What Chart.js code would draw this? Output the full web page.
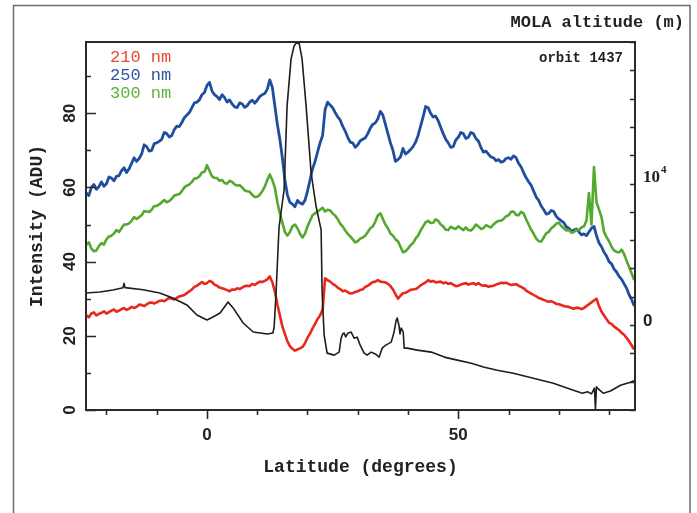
<!DOCTYPE html>
<html>
<head>
<meta charset="utf-8">
<script src="https://cdn.jsdelivr.net/npm/chart.js@4.4.0/dist/chart.umd.min.js"></script>
<style>
  html, body { margin: 0; padding: 0; background: #fff; }
  canvas { display: block; }
</style>
</head>
<body>
<canvas id="chart" width="697" height="513"></canvas>
<script>
// latitude grid shared by the three UV channels (degrees, 0.5 step)
const latitude = [
  -24, -23.5, -23, -22.5, -22, -21.5, -21, -20.5, -20, -19.5,
  -19, -18.5, -18, -17.5, -17, -16.5, -16, -15.5, -15, -14.5,
  -14, -13.5, -13, -12.5, -12, -11.5, -11, -10.5, -10, -9.5,
  -9, -8.5, -8, -7.5, -7, -6.5, -6, -5.5, -5, -4.5,
  -4, -3.5, -3, -2.5, -2, -1.5, -1, -0.5, 0, 0.5,
  1, 1.5, 2, 2.5, 3, 3.5, 4, 4.5, 5, 5.5,
  6, 6.5, 7, 7.5, 8, 8.5, 9, 9.5, 10, 10.5,
  11, 11.5, 12, 12.5, 13, 13.5, 14, 14.5, 15, 15.5,
  16, 16.5, 17, 17.5, 18, 18.5, 19, 19.5, 20, 20.5,
  21, 21.5, 22, 22.5, 23, 23.5, 24, 24.5, 25, 25.5,
  26, 26.5, 27, 27.5, 28, 28.5, 29, 29.5, 30, 30.5,
  31, 31.5, 32, 32.5, 33, 33.5, 34, 34.5, 35, 35.5,
  36, 36.5, 37, 37.5, 38, 38.5, 39, 39.5, 40, 40.5,
  41, 41.5, 42, 42.5, 43, 43.5, 44, 44.5, 45, 45.5,
  46, 46.5, 47, 47.5, 48, 48.5, 49, 49.5, 50, 50.5,
  51, 51.5, 52, 52.5, 53, 53.5, 54, 54.5, 55, 55.5,
  56, 56.5, 57, 57.5, 58, 58.5, 59, 59.5, 60, 60.5,
  61, 61.5, 62, 62.5, 63, 63.5, 64, 64.5, 65, 65.5,
  66, 66.5, 67, 67.5, 68, 68.5, 69, 69.5, 70, 70.5,
  71, 71.5, 72, 72.5, 73, 73.5, 74, 74.5, 75, 75.5,
  76, 76.5, 77, 77.5, 78, 78.5, 79, 79.5, 80, 80.5,
  81, 81.5, 82, 82.5, 83, 83.5, 84, 84.5, 85
];

// intensity (ADU), one row per 5 degrees
const uv210 = [
  25.5, 25, 26, 26.3, 25.5, 25.9, 26.2, 26.6, 26, 26.4,
  26.8, 27.1, 26.5, 26.8, 27.2, 27.5, 27, 27.3, 27.8, 27.5,
  27.8, 28.4, 28.3, 28, 28.5, 28.9, 29, 28.7, 29, 29.4,
  29.5, 29.3, 29.8, 30.2, 30, 29.8, 30.2, 30.6, 30.8, 31,
  31.5, 32, 32.5, 33.2, 33.5, 34, 34.5, 34, 34.2, 34.8,
  34.5, 33.8, 33.5, 33, 32.8, 32.6, 32.3, 32, 32.5, 32.4,
  32.8, 32.6, 33, 33.4, 33.5, 33.4, 34, 33.7, 34.2, 34.6,
  34.5, 34.8, 35.2, 36, 34.5, 32, 28.5, 25.5, 22.5, 20.5,
  18.5, 17.2, 16.5, 16, 16.3, 16.6, 17, 18, 19.5, 20.6,
  22, 23.2, 24.5, 25.5, 27, 35.5, 35, 34.6, 34, 33.6,
  33, 32.6, 32, 32.2, 31.8, 31.4, 31.5, 31.8, 32, 32.4,
  32.5, 33.2, 33.5, 34, 34.5, 34.6, 35, 34.6, 34.5, 34.4,
  34, 33.4, 32.5, 31.2, 30, 30.8, 31.5, 31.6, 32, 32.4,
  32.5, 32.6, 33, 33.6, 34, 34.4, 35, 34.6, 34.8, 34.4,
  34.5, 34.6, 34.2, 34.4, 34, 34.2, 33.8, 33.4, 33.5, 33.8,
  34, 34.2, 33.8, 34, 34.2, 33.8, 34.2, 33.7, 33.5, 33.6,
  33.2, 33.4, 33.5, 33.8, 34, 34.3, 34.2, 34.3, 34, 33.7,
  33.8, 33.9, 33.5, 33.2, 32.8, 32.2, 31.8, 31.4, 31, 30.6,
  30.2, 30, 29.7, 29.4, 29.2, 29.3, 29, 28.6, 28.5, 28.3,
  28, 27.9, 27.8, 27.5, 27.3, 27.6, 27.5, 27.2, 27.5, 28,
  28.5, 29, 29.5, 30, 28, 26.5, 25.5, 24.5, 23.5, 23.2,
  22.5, 22, 21.5, 20.8, 20.3, 19.4, 18.5, 17.4, 16.3
];
const uv250 = [
  58.5, 57.8, 60, 60.8, 59.5, 60.2, 61.5, 60.3, 61, 62.8,
  62.5, 61.8, 63, 63.2, 64.5, 65.3, 64, 65, 66.5, 68,
  67, 67.8, 69, 71.5, 71, 69.8, 70, 71.8, 72, 72.4,
  73, 74.8, 74.5, 73.6, 74, 75.6, 76.5, 76.4, 77.5, 78.8,
  79.5, 80.2, 81.5, 82.8, 83, 83.6, 85, 85.6, 87.5, 88.3,
  86, 85, 84.5, 83.7, 85, 84.2, 83, 83.6, 82.5, 81.7,
  81.5, 82.8, 82.5, 81.6, 82, 83, 83.5, 82.7, 83.5, 84.5,
  85, 85.3, 86.5, 89, 87, 82, 77, 73, 68, 62,
  58, 56, 55.5, 54.8, 56.5, 55.8, 55.5, 56.5, 59, 62,
  65, 67, 69.5, 72, 74, 81, 83, 82.2, 81.5, 80.2,
  79, 78.2, 76.5, 75.2, 73.5, 72.2, 72, 70.8, 71.5, 72.6,
  73, 73.4, 74.5, 76, 77, 77.4, 78.5, 80.5, 79.5, 77,
  74.5, 72, 70, 67, 67.5, 68.2, 70.5, 69, 69.5, 70.2,
  71, 72.2, 74, 76.5, 79, 81.8, 81.5, 80, 79, 79.2,
  78, 76.2, 74.5, 73, 72, 70.8, 71, 72.8, 73.5, 74.8,
  74.5, 73.2, 73.5, 74.8, 74.5, 73.2, 72.5, 70.8, 69.5, 69.8,
  69, 68.2, 68, 67.2, 67.5, 66.8, 67, 67.8, 68, 67.6,
  68.5, 68, 66.5, 65.5, 64, 62.6, 61.5, 60.6, 59, 57.4,
  56.5, 55, 54, 52.8, 53, 53.8, 53.5, 52.2, 51.5, 51,
  50.5, 49.4, 49, 48.2, 48.5, 48.8, 48, 47.2, 47.5, 47,
  48, 49, 49.5, 47, 45, 44, 42.5, 41.5, 40, 39.4,
  38, 37.2, 36, 35.2, 34, 32.8, 31, 29.8, 28
];
const uv300 = [
  44.5, 45.2, 43.5, 42.8, 43, 44.2, 45, 44.6, 46, 46.8,
  47, 47.6, 48.5, 48, 49, 50, 50, 50.3, 51, 52,
  51.5, 52, 52.5, 53.6, 53.5, 53.4, 54, 55, 55, 55.4,
  56, 56.6, 56, 56.3, 57, 57.8, 58, 58.2, 59, 60,
  60.5, 60.8, 61.5, 62.4, 62.5, 63, 64, 64.2, 66, 64.5,
  63, 62.6, 62.5, 61.8, 62, 61.2, 61, 61.8, 61.5, 60.8,
  60.5, 60.6, 60, 59.2, 59, 58.8, 58, 57.4, 57.5, 58,
  59, 60.2, 62, 63.5, 62, 60, 56, 53, 50.5, 48,
  47, 48, 49.5, 50, 49, 47.5, 46.5, 47.5, 49.5, 51,
  52.5, 53, 53.5, 54, 54.5, 53.5, 54, 53.8, 53, 52.4,
  51.5, 50.2, 49.5, 48.4, 47.5, 46.8, 46, 45.2, 45.5, 46.2,
  46.5, 47, 48, 49, 49.5, 50.8, 52.5, 53, 51.5, 50,
  49, 47.6, 47, 46, 45.5, 44, 42.5, 42.8, 43.5, 44.4,
  45, 46.2, 47, 48.4, 49.5, 50.6, 51, 50.4, 50.5, 51.4,
  51, 50, 49.5, 48.6, 48.5, 49.4, 49, 48.8, 49.5, 49,
  48.5, 49.2, 48.5, 48.4, 49, 50, 49.5, 48.8, 49, 49.8,
  49.5, 49.2, 50, 50.6, 51, 51, 51.5, 52.2, 52.5, 53.4,
  53.5, 52.6, 52.5, 53.4, 53, 51.4, 50, 48.6, 47.5, 46.2,
  45.5, 45.4, 46.5, 47.6, 48, 49, 49.5, 50.2, 50.5, 49.6,
  49, 48.4, 48.5, 47.8, 48, 48.6, 48.5, 49.2, 49.5, 51,
  58.5, 50, 65.5, 56, 54, 52, 48, 46.6, 45.5, 44,
  43, 42.6, 42.5, 43.2, 42, 40.2, 38.5, 36.8, 35
];

// MOLA track altitude (m)
const molaLatitude = [
  -24.1, -21.3, -18.7, -16.7, -16.5, -16.3, -12.7, -9.4, -6.8, -4.0, -2.0, 0.0, 1.2, 2.6, 4.2, 5.2, 7.2, 9.2, 12.0, 13.1,
  13.35, 13.75, 14.34, 15.34, 15.94, 16.73, 17.33, 17.73, 18.33, 18.92, 19.72, 20.72, 21.71, 22.71, 22.91, 23.31, 23.9,
  25.3, 26.29, 26.69, 27.0, 27.29, 27.6, 28.0, 28.69, 29.0, 29.28, 29.88, 30.5, 31.27, 31.87, 32.67, 33.5, 34.26, 34.86,
  35.5, 36.65, 37.2, 37.65, 37.85, 38.2, 38.4, 38.65, 39.04, 39.24, 39.84, 41.83, 44.62, 47.21, 49.8, 52.59, 55.18,
  57.77, 60.96, 64.94, 68.92, 72.91, 74.7, 75.7, 76.5, 77.09, 77.29, 77.49, 77.69, 78.88, 80.28, 82.27, 84.26, 85.2
];
const molaAltitude = [
  2180, 2250, 2390, 2550, 2850, 2550, 2400, 2180, 1830, 1340, 630, 280, 490, 770, 1550, 1130, 70, -560, -700, -630,
  -280, 2250, 6800, 9400, 15300, 18600, 19500, 19700, 19700, 18600, 15300, 10600, 8240, 6600, 2250, -770, -2040,
  -2180, -1970, -990, -700, -630, -900, -650, -560, -800, -990, -920, -1500, -2040, -2180, -1970, -2100, -2320, -1690,
  -1500, -1270, -600, 280, 420, -100, -700, -280, -560, -1690, -1690, -1830, -1970, -2320, -2530, -2750, -3030,
  -3240, -3450, -3800, -4150, -4650, -4860, -4750, -4900, -4500, -6000, -4400, -4500, -4860, -4700, -4290, -4080, -3940
];

const channelNames = ['210 nm', '250 nm', '300 nm'];
const channelColors = ['#e8281c', '#1f4e9e', '#52a92e'];
const legendColors = ['#e8482c', '#2a55a0', '#62b03a'];

// labelled ticks
const latLabels = [0, 50];
const intensityLabels = [0, 20, 40, 60, 80];
const altitudeLabels = [0, 10000];

function points(xs, ys) {
  return xs.map((x, i) => ({ x: x, y: ys[i] }));
}

const decorations = {
  id: 'decorations',
  beforeDraw(chart) {
    const c = chart.ctx;
    c.save();
    c.fillStyle = '#fff';
    c.fillRect(0, 0, chart.width, chart.height);
    // outer figure frame
    c.strokeStyle = '#6b6b6b';
    c.lineWidth = 1.5;
    c.strokeRect(13.5, 5.5, 676.5, 530);
    c.restore();
  },
  afterDatasetsDraw(chart) {
    const c = chart.ctx;
    const a = chart.chartArea;
    const sx = chart.scales.x, sy = chart.scales.y, s2 = chart.scales.y2;
    c.save();

    c.strokeStyle = '#2a2a2a';
    c.lineWidth = 2;
    c.strokeRect(a.left, a.top, a.right - a.left, a.bottom - a.top);

    // tick marks: outward on the bottom, inward on both sides
    c.lineWidth = 1.6;
    c.beginPath();
    sx.ticks.forEach(t => {
      const px = Math.round(sx.getPixelForValue(t.value)) + 0.5;
      const len = latLabels.includes(t.value) ? 9 : 5;
      c.moveTo(px, a.bottom);
      c.lineTo(px, a.bottom + len);
    });
    sy.ticks.forEach(t => {
      const py = Math.round(sy.getPixelForValue(t.value)) + 0.5;
      const len = intensityLabels.includes(t.value) ? 10 : 5;
      c.moveTo(a.left, py);
      c.lineTo(a.left + len, py);
    });
    s2.ticks.forEach(t => {
      const py = Math.round(s2.getPixelForValue(t.value)) + 0.5;
      const len = altitudeLabels.includes(t.value) ? 8 : 5;
      c.moveTo(a.right, py);
      c.lineTo(a.right - len, py);
    });
    c.stroke();

    c.fillStyle = '#222';
    c.textAlign = 'center';
    c.textBaseline = 'middle';
    c.font = 'bold 17px "Liberation Sans", Arial, sans-serif';
    latLabels.forEach(v => {
      c.fillText(String(v), sx.getPixelForValue(v), a.bottom + 25);
    });
    intensityLabels.forEach(v => {
      c.save();
      c.translate(70, sy.getPixelForValue(v));
      c.rotate(-Math.PI / 2);
      c.fillText(String(v), 0, 0);
      c.restore();
    });

    // right axis: 0 and 10^4
    c.textAlign = 'left';
    c.fillText('0', a.right + 8, s2.getPixelForValue(0) - 3);
    const y4 = s2.getPixelForValue(10000) - 4;
    c.font = 'bold 17px "Liberation Serif", "Times New Roman", serif';
    c.fillText('10', a.right + 8, y4);
    c.font = 'bold 11px "Liberation Serif", "Times New Roman", serif';
    c.fillText('4', a.right + 26, y4 - 7);

    // axis titles
    c.font = 'bold 18px "Liberation Mono", "Courier New", monospace';
    c.textAlign = 'center';
    c.fillText('Latitude (degrees)', (a.left + a.right) / 2, 467);
    c.save();
    c.translate(37, (a.top + a.bottom) / 2);
    c.rotate(-Math.PI / 2);
    c.fillText('Intensity (ADU)', 0, 0);
    c.restore();
    c.font = 'bold 17px "Liberation Mono", "Courier New", monospace';
    c.textAlign = 'right';
    c.fillText('MOLA altitude (m)', 684, 23);

    c.font = 'bold 14px "Liberation Mono", "Courier New", monospace';
    c.fillText('orbit 1437', a.right - 12, a.top + 16);

    // channel legend
    c.textAlign = 'left';
    c.font = '17px "Liberation Mono", "Courier New", monospace';
    channelNames.forEach((name, i) => {
      c.fillStyle = legendColors[i];
      c.fillText(name, 110, 57 + i * 18);
    });

    c.restore();
  }
};

new Chart(document.getElementById('chart'), {
  type: 'line',
  data: {
    datasets: [
      {
        label: 'MOLA',
        data: points(molaLatitude, molaAltitude),
        yAxisID: 'y2',
        borderColor: '#1e1e1e',
        borderWidth: 1.6
      },
      {
        label: channelNames[2],
        data: points(latitude, uv300),
        borderColor: channelColors[2],
        borderWidth: 2.6
      },
      {
        label: channelNames[0],
        data: points(latitude, uv210),
        borderColor: channelColors[0],
        borderWidth: 2.6
      },
      {
        label: channelNames[1],
        data: points(latitude, uv250),
        borderColor: channelColors[1],
        borderWidth: 2.8
      }
    ]
  },
  options: {
    responsive: false,
    animation: false,
    layout: { padding: { top: 42, left: 0, right: 0, bottom: 0 } },
    elements: {
      point: { radius: 0 },
      line: { tension: 0, fill: false, borderJoinStyle: 'round' }
    },
    plugins: {
      legend: { display: false },
      tooltip: { enabled: false }
    },
    scales: {
      x: {
        type: 'linear',
        min: -24.07,
        max: 85.16,
        ticks: { stepSize: 10, includeBounds: false, display: false },
        grid: { display: false },
        border: { display: false },
        afterFit: s => { s.height = 103; }
      },
      y: {
        position: 'left',
        min: 0,
        max: 99.2,
        ticks: { stepSize: 10, includeBounds: false, display: false },
        grid: { display: false },
        border: { display: false },
        afterFit: s => { s.width = 86; }
      },
      y2: {
        position: 'right',
        min: -6030,
        max: 19780,
        ticks: { stepSize: 2000, includeBounds: false, display: false },
        grid: { display: false },
        border: { display: false },
        afterFit: s => { s.width = 62; }
      }
    }
  },
  plugins: [decorations]
});
</script>
</body>
</html>
